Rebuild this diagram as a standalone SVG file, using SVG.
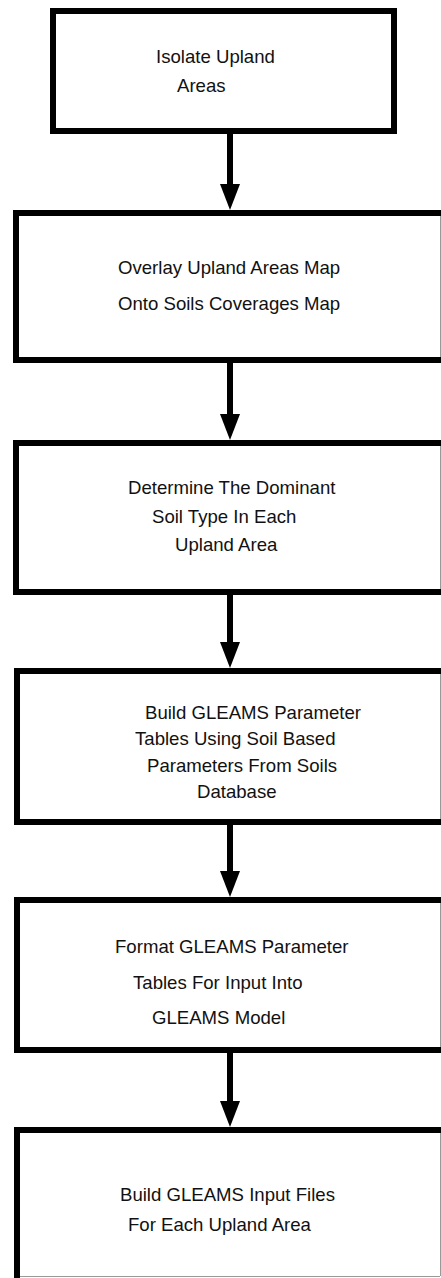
<svg xmlns="http://www.w3.org/2000/svg" width="441" height="1278" viewBox="0 0 441 1278">
<style>
.box{fill:#fff;stroke:#000;stroke-width:6}
.edge{stroke:#999;stroke-width:1}
.t{font-family:"Liberation Sans",Arial,sans-serif;font-size:18.6px;fill:#111}
.conn{stroke:#000;stroke-width:6;fill:none}
</style>
<defs>
<marker id="ah" markerUnits="userSpaceOnUse" viewBox="0 -10 26 20" markerWidth="26" markerHeight="20" refX="1" refY="0" orient="auto" overflow="visible">
<path d="M0,-10 L26,0 L0,10 z" fill="#000"/>
</marker>
</defs>
<rect width="441" height="1278" fill="#fff"/>
<g id="connectors">
<line class="conn" x1="230" y1="134" x2="230" y2="185" marker-end="url(#ah)"/>
<line class="conn" x1="230" y1="363" x2="230" y2="415" marker-end="url(#ah)"/>
<line class="conn" x1="230" y1="595" x2="230" y2="643" marker-end="url(#ah)"/>
<line class="conn" x1="230" y1="825" x2="230" y2="872" marker-end="url(#ah)"/>
<line class="conn" x1="230" y1="1053" x2="230" y2="1102" marker-end="url(#ah)"/>
</g>
<g id="node1">
<rect class="box" x="53" y="11" width="341" height="120"/>
<text class="t" x="156" y="63">Isolate Upland</text>
<text class="t" x="177" y="92">Areas</text>
</g>
<g id="node2">
<rect class="box" x="16" y="213" width="432" height="147"/>
<line class="edge" x1="440.5" y1="216" x2="440.5" y2="357"/>
<text class="t" x="118" y="274">Overlay Upland Areas Map</text>
<text class="t" x="118" y="310">Onto Soils Coverages Map</text>
</g>
<g id="node3">
<rect class="box" x="16" y="443" width="432" height="149"/>
<line class="edge" x1="440.5" y1="446" x2="440.5" y2="589"/>
<text class="t" x="128" y="494">Determine The Dominant</text>
<text class="t" x="152" y="523">Soil Type In Each</text>
<text class="t" x="175" y="551">Upland Area</text>
</g>
<g id="node4">
<rect class="box" x="17" y="671" width="431" height="151"/>
<line class="edge" x1="440.5" y1="674" x2="440.5" y2="819"/>
<text class="t" x="145" y="719">Build GLEAMS Parameter</text>
<text class="t" x="135" y="745">Tables Using Soil Based</text>
<text class="t" x="147" y="772">Parameters From Soils</text>
<text class="t" x="197" y="798">Database</text>
</g>
<g id="node5">
<rect class="box" x="17" y="900" width="431" height="150"/>
<line class="edge" x1="440.5" y1="903" x2="440.5" y2="1047"/>
<text class="t" x="115" y="953">Format GLEAMS Parameter</text>
<text class="t" x="133" y="989">Tables For Input Into</text>
<text class="t" x="152" y="1024">GLEAMS Model</text>
</g>
<g id="node6">
<rect class="box" x="17" y="1130" width="431" height="151"/>
<line class="edge" x1="440.5" y1="1133" x2="440.5" y2="1276"/>
<line class="edge" x1="20" y1="1276.5" x2="440" y2="1276.5"/>
<text class="t" x="120" y="1201">Build GLEAMS Input Files</text>
<text class="t" x="128" y="1231">For Each Upland Area</text>
</g>
</svg>
